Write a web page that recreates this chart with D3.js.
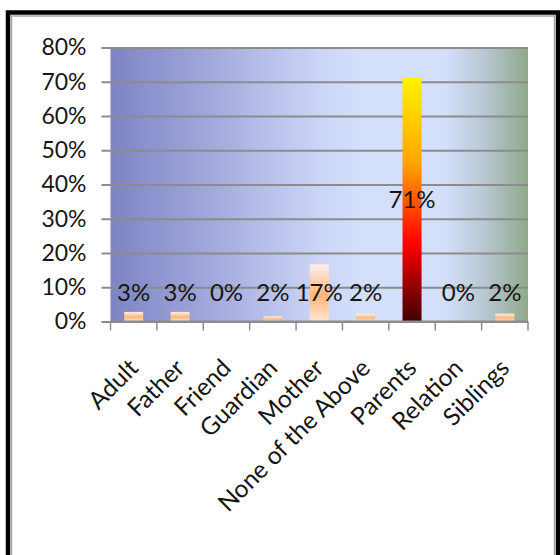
<!DOCTYPE html>
<html>
<head>
<meta charset="utf-8">
<script src="https://cdn.jsdelivr.net/npm/d3@7"></script>
<style>
  body { margin: 0; background: #fff; }
  text { font-family: Lato, "Open Sans", sans-serif; fill: #161616; }
</style>
</head>
<body>
<div class="chart"></div>
<script>
// data
var categories = ["Adult", "Father", "Friend", "Guardian", "Mother",
	"None of the Above", "Parents", "Relation", "Siblings"];
var shares = [2.8, 2.8, 0, 1.5, 16.7, 2.3, 71.1, 0, 2.3]; // percent
var yTicks = [0, 10, 20, 30, 40, 50, 60, 70, 80];

var W = 560, H = 555;
var plot = { left: 110.5, right: 528, top: 47.5, bottom: 321.5 };

var svg = d3.select(".chart").append("svg")
	.attr("width", W)
	.attr("height", H);

var defs = svg.append("defs");

// plot area background, blue -> pale -> sage
var bg = defs.append("linearGradient").attr("id", "bg")
	.attr("x1", 0).attr("x2", 1).attr("y1", 0).attr("y2", 0);
[[0, "#7d84c3"], [0.25, "#a4aadd"], [0.5, "#cbd5f6"], [0.6, "#d4dffc"],
	[0.8, "#d4dffc"], [0.9, "#b7c6cf"], [1, "#8fa98a"]].forEach(function (s) {
	bg.append("stop").attr("offset", s[0]).attr("stop-color", s[1]);
});

// peach bars
var peach = defs.append("linearGradient").attr("id", "peach")
	.attr("x1", 0).attr("x2", 0).attr("y1", 0).attr("y2", 1);
[[0, "#ffeeee"], [0.55, "#ffb779"], [1, "#ffe6d4"]].forEach(function (s) {
	peach.append("stop").attr("offset", s[0]).attr("stop-color", s[1]);
});

// fire bar for the big one
var fire = defs.append("linearGradient").attr("id", "fire")
	.attr("x1", 0).attr("x2", 0).attr("y1", 0).attr("y2", 1);
[[0, "#fff200"], [0.35, "#ffa400"], [0.68, "#ff0000"], [1, "#3f0000"]].forEach(function (s) {
	fire.append("stop").attr("offset", s[0]).attr("stop-color", s[1]);
});

// frame
svg.append("rect")
	.attr("x", 8).attr("y", 12.5)
	.attr("width", 550).attr("height", 560)
	.attr("fill", "none").attr("stroke", "#000").attr("stroke-width", 4.5);
svg.append("rect")
	.attr("x", 11.5).attr("y", 16)
	.attr("width", 543).attr("height", 560)
	.attr("fill", "none").attr("stroke", "#a6a6a6").attr("stroke-width", 1.5);

var x = d3.scaleBand()
	.domain(categories)
	.range([plot.left, plot.right])
	.paddingInner(0.59).paddingOuter(0.295);

var y = d3.scaleLinear()
	.domain([0, 80])
	.range([plot.bottom, plot.top]);

svg.append("rect")
	.attr("x", plot.left).attr("y", plot.top)
	.attr("width", plot.right - plot.left)
	.attr("height", plot.bottom - plot.top)
	.attr("fill", "url(#bg)");

// gridlines + y axis
var yAxis = svg.append("g")
	.attr("transform", "translate(" + plot.left + ",0)")
	.call(d3.axisLeft(y)
		.tickValues(yTicks)
		.tickSize(-(plot.right - plot.left))
		.tickPadding(24)
		.tickFormat(function (d) { return d + "%"; }));
yAxis.select(".domain").remove();
yAxis.selectAll(".tick line")
	.attr("x1", -9)
	.attr("stroke", "#8c8c8c").attr("stroke-width", 2);
yAxis.selectAll(".tick text")
	.style("font-size", "23px");

// bars
svg.append("g").selectAll("rect")
	.data(shares)
	.enter().append("rect")
	.attr("x", function (d, i) { return x(categories[i]); })
	.attr("y", function (d) { return y(d); })
	.attr("width", x.bandwidth())
	.attr("height", function (d) { return plot.bottom - y(d); })
	.attr("fill", function (d) { return d > 50 ? "url(#fire)" : "url(#peach)"; });

// x axis
var step = x.step();
var xAxis = svg.append("g")
	.attr("transform", "translate(0," + plot.bottom + ")");
xAxis.append("line")
	.attr("x1", plot.left).attr("x2", plot.right)
	.attr("stroke", "#8c8c8c").attr("stroke-width", 2);
xAxis.selectAll(".xt")
	.data(d3.range(categories.length + 1))
	.enter().append("line")
	.attr("class", "xt")
	.attr("x1", function (i) { return plot.left + i * step; })
	.attr("x2", function (i) { return plot.left + i * step; })
	.attr("y1", 0).attr("y2", 9)
	.attr("stroke", "#8c8c8c").attr("stroke-width", 1.5);

xAxis.selectAll(".xl")
	.data(categories)
	.enter().append("text")
	.attr("class", "xl")
	.attr("transform", function (d) {
		return "translate(" + (x(d) + x.bandwidth() / 2) + ",42) rotate(-45)";
	})
	.attr("text-anchor", "end")
	.attr("dy", "0.35em")
	.style("font-size", "24.5px")
	.text(function (d) { return d; });

// value labels
svg.append("g").selectAll("text")
	.data(shares)
	.enter().append("text")
	.attr("x", function (d, i) { return x(categories[i]) + x.bandwidth() / 2; })
	.attr("y", function (d) { return y(Math.max(d / 2, 8.3)); })
	.attr("dy", "0.35em")
	.attr("text-anchor", "middle")
	.style("font-size", "24px")
	.text(function (d) { return Math.round(d) + "%"; });
</script>
</body>
</html>
